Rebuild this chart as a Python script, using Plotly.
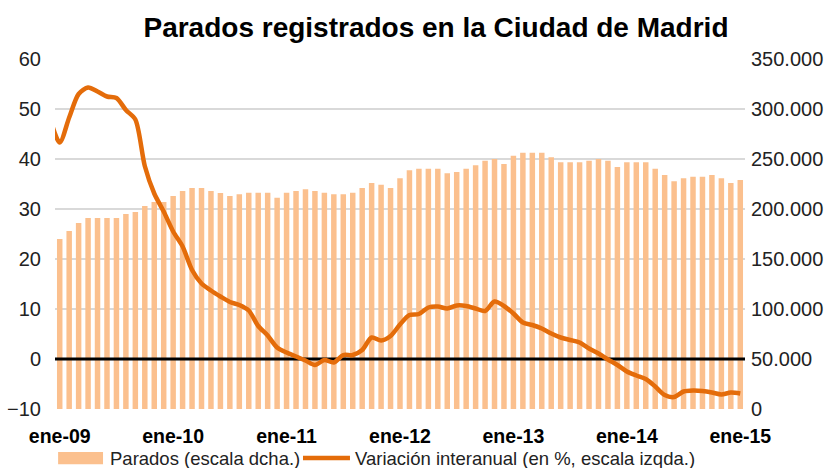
import plotly.graph_objects as go

# Monthly registered unemployed in Madrid city, ene-09 .. ene-15 (right axis)
parados = [
    170000, 178000, 186000, 191000, 191000, 191000, 191000, 195000, 197000, 203000, 207000, 207000,
    213000, 218000, 221000, 221000, 218000, 216000, 213000, 214700, 216300, 216300, 216300, 211300,
    216300, 218000, 219700, 218000, 216300, 214700, 214700, 216300, 221000, 226000, 224300, 221000,
    230700, 238700, 240300, 240300, 240300, 235700, 237000, 240300, 243700, 248300, 250000, 245000,
    253300, 256300, 256300, 256300, 251700, 246700, 246700, 246700, 248300, 250000, 248300, 242000,
    246700, 246700, 246700, 240300, 234000, 227700, 230700, 232300, 232300, 234000, 230700, 226000,
    229000,
]

# Year-on-year change in %, dic-08 .. ene-15 (left axis)
variacion = [
    48.0,
    43.3, 48.3, 53.0, 54.3, 53.5, 52.5, 52.2, 49.8, 47.9, 38.6, 33.1, 29.5,
    25.5, 22.5, 17.8, 15.1, 13.7, 12.5, 11.4, 10.8, 9.7, 6.6, 4.7, 2.3,
    1.3, 0.5, -0.3, -1.2, -0.2, -0.7, 0.8, 0.8, 1.8, 4.3, 3.7, 4.6,
    6.9, 8.8, 9.0, 10.3, 10.5, 10.1, 10.7, 10.6, 10.1, 9.6, 11.5, 10.6,
    9.1, 7.3, 6.8, 6.1, 5.1, 4.3, 3.8, 3.3, 2.1, 1.1, -0.1, -1.2,
    -2.5, -3.3, -4.0, -5.5, -7.2, -7.6, -6.5, -6.3, -6.4, -6.7, -7.1, -6.7,
    -6.9,
]

tick_labels = ["ene-09", "ene-10", "ene-11", "ene-12", "ene-13", "ene-14", "ene-15"]
left_ticks = [-10, 0, 10, 20, 30, 40, 50, 60]
right_ticks = [0, 50000, 100000, 150000, 200000, 250000, 300000, 350000]

BAR = "#FBC08E"
LINE = "#E46C0A"
FONT = "Liberation Sans, Arial, sans-serif"

x_bars = list(range(len(parados)))
x_line = list(range(-1, len(variacion) - 1))

fig = go.Figure()
fig.add_trace(go.Bar(
    x=x_bars, y=parados, yaxis="y", width=0.58,
    marker=dict(color=BAR, line=dict(width=0)),
    name="Parados (escala dcha.)", hoverinfo="skip",
))
fig.add_trace(go.Scatter(
    x=[-0.5, len(parados) - 0.5], y=[0, 0], yaxis="y2", mode="lines",
    line=dict(color="black", width=3), hoverinfo="skip", showlegend=False,
))
fig.add_trace(go.Scatter(
    x=x_line, y=variacion, yaxis="y2", mode="lines",
    line=dict(color=LINE, width=4.5, shape="spline", smoothing=0.8),
    name="Variación interanual (en %, escala izqda.)", hoverinfo="skip",
))

# Legend drawn below the axis labels
legend_y = -0.14
fig.add_shape(type="rect", xref="paper", yref="paper",
              x0=0.0045, x1=0.0696, y0=-0.123, y1=-0.158,
              fillcolor=BAR, line=dict(width=0))
fig.add_shape(type="line", xref="paper", yref="paper",
              x0=0.3594, x1=0.4275, y0=legend_y, y1=legend_y,
              line=dict(color=LINE, width=4.5))
fig.add_annotation(xref="paper", yref="paper", x=0.0768, y=legend_y,
                   text="Parados (escala dcha.)", showarrow=False,
                   xanchor="left", yanchor="middle",
                   font=dict(family=FONT, size=18.5, color="#222"))
fig.add_annotation(xref="paper", yref="paper", x=0.4319, y=legend_y,
                   text="Variación interanual (en %, escala izqda.)", showarrow=False,
                   xanchor="left", yanchor="middle",
                   font=dict(family=FONT, size=18.5, color="#222"))

fig.update_layout(
    width=833, height=468,
    margin=dict(l=55, r=88, t=59, b=59, autoexpand=False),
    paper_bgcolor="white", plot_bgcolor="white",
    separators=",.",
    showlegend=False,
    bargap=0.4,
    title=dict(text="<b>Parados registrados en la Ciudad de Madrid</b>",
               x=0.5234, xanchor="center", y=0.942, yanchor="middle",
               font=dict(family=FONT, size=28, color="black")),
    xaxis=dict(range=[-0.5, len(parados) - 0.5], automargin=False,
               tickvals=list(range(0, len(parados), 12)), ticktext=tick_labels,
               tickfont=dict(family=FONT, size=19.5, color="black", weight="bold"),
               showgrid=False, zeroline=False, showline=False, ticks="",
               ticklabelstandoff=13),
    yaxis=dict(range=[0, 350000], side="right", tickvals=right_ticks, automargin=False,
               tickformat=",d", showgrid=True, gridcolor="#D9D9D9", gridwidth=1.5,
               zeroline=False, showline=False, ticks="",
               tickfont=dict(family=FONT, size=20, color="#222"),
               ticklabelstandoff=5),
    yaxis2=dict(range=[-10, 60], overlaying="y", side="left", tickvals=left_ticks,
                automargin=False,
                showgrid=False, zeroline=False, showline=False, ticks="",
                tickfont=dict(family=FONT, size=20, color="#222"),
                ticklabelstandoff=13),
)

fig.write_html("out.html")
